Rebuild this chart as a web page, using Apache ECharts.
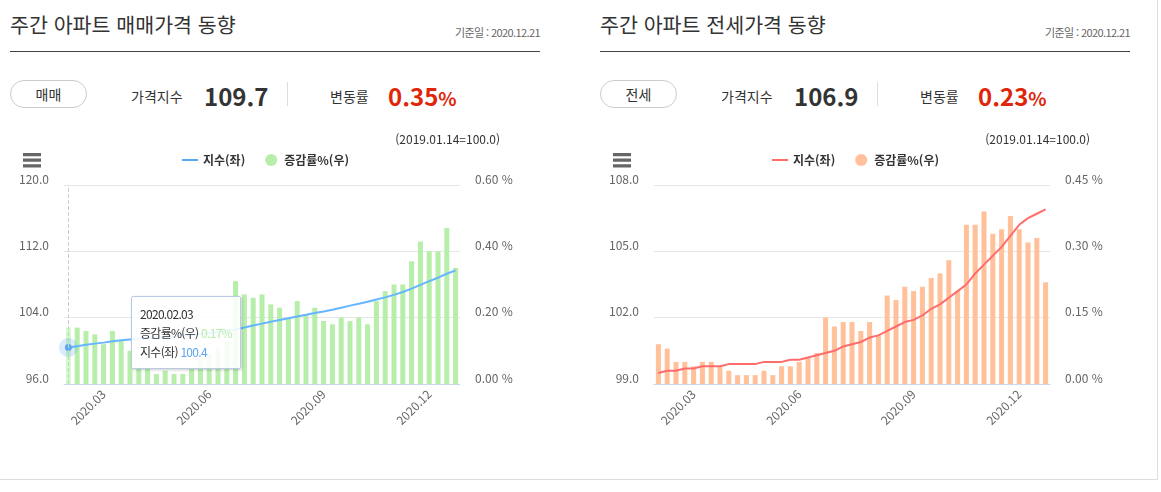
<!DOCTYPE html>
<html lang="ko">
<head>
<meta charset="utf-8">
<title>주간 아파트 가격 동향</title>
<script src="https://cdn.jsdelivr.net/npm/echarts@6/dist/echarts.min.js"></script>
<style>
  body { margin: 0; background: #fff; font-family: 'Noto Sans CJK KR', sans-serif; color: #333; }
  .wrap { position: relative; width: 1157px; height: 479px; border-right: 1px solid #ddd; border-bottom: 1px solid #ddd; }
  .panel { position: absolute; top: 0; width: 580px; height: 479px; }
  .title { position: absolute; left: 10px; top: 10px; font-size: 20.6px; line-height: 28px; }
  .base { position: absolute; right: 40px; top: 24px; font-size: 11px; line-height: 16px; color: #666; letter-spacing: -0.6px; }
  .rule { position: absolute; left: 10px; top: 51px; width: 530px; border-top: 1px solid #444; }
  .btn { position: absolute; left: 10px; top: 80px; width: 75px; height: 26px; border: 1px solid #ccc; border-radius: 14px; text-align: center; font-size: 14px; line-height: 26px; }
  .lbl { position: absolute; top: 86px; font-size: 14px; line-height: 20px; }
  .num { position: absolute; top: 80px; font-size: 24px; line-height: 32px; font-weight: bold; }
  .num small { font-size: 19px; }
  .red { color: #e0260a; }
  .sep { position: absolute; left: 287px; top: 82px; height: 24px; border-left: 1px solid #ddd; }
  .chart { position: absolute; left: 0; top: 120px; width: 560px; height: 340px; }
</style>
</head>
<body>
<div class="wrap">
  <div class="panel" style="left:0">
    <div class="title">주간 아파트 매매가격 동향</div>
    <div class="base">기준일 : 2020.12.21</div>
    <div class="rule"></div>
    <div class="btn">매매</div>
    <div class="lbl" style="left:131px">가격지수</div>
    <div class="num" style="left:204px">109.7</div>
    <div class="sep"></div>
    <div class="lbl" style="left:330px">변동률</div>
    <div class="num red" style="left:388px">0.35<small>%</small></div>
    <div class="chart" id="main"></div>
  </div>
  <div class="panel" style="left:590px">
    <div class="title">주간 아파트 전세가격 동향</div>
    <div class="base">기준일 : 2020.12.21</div>
    <div class="rule"></div>
    <div class="btn">전세</div>
    <div class="lbl" style="left:131px">가격지수</div>
    <div class="num" style="left:204px">106.9</div>
    <div class="sep"></div>
    <div class="lbl" style="left:330px">변동률</div>
    <div class="num red" style="left:388px">0.23<small>%</small></div>
    <div class="chart" id="main2"></div>
  </div>
</div>
<script>
// 주간 날짜 (휴일 주 제외)
var dates = [
    '2020.02.03', '2020.02.10', '2020.02.17', '2020.02.24', '2020.03.02', '2020.03.09', '2020.03.16', '2020.03.23', '2020.03.30', '2020.04.06',
    '2020.04.20', '2020.04.27', '2020.05.04', '2020.05.11', '2020.05.18', '2020.05.25', '2020.06.01', '2020.06.08', '2020.06.15', '2020.06.22',
    '2020.06.29', '2020.07.06', '2020.07.13', '2020.07.20', '2020.07.27', '2020.08.03', '2020.08.10', '2020.08.24', '2020.08.31', '2020.09.07',
    '2020.09.14', '2020.09.21', '2020.09.28', '2020.10.12', '2020.10.19', '2020.10.26', '2020.11.02', '2020.11.09', '2020.11.16', '2020.11.23',
    '2020.11.30', '2020.12.07', '2020.12.14', '2020.12.21', '2020.12.28'
];

// 매매
var saleIndex = [
    100.40, 100.56, 100.72, 100.87, 100.99, 101.15, 101.28, 101.38, 101.46, 101.54,
    101.61, 101.69, 101.76, 101.84, 101.93, 102.03, 102.14, 102.26, 102.39, 102.58,
    102.82, 103.05, 103.28, 103.50, 103.72, 103.92, 104.14, 104.34, 104.56, 104.75,
    104.95, 105.20, 105.45, 105.68, 105.92, 106.18, 106.45, 106.75, 107.10, 107.50,
    107.95, 108.40, 108.82, 109.30, 109.70
];
var saleRate = [
    0.17, 0.17, 0.16, 0.15, 0.12, 0.16, 0.13, 0.10, 0.05, 0.05,
    0.03, 0.04, 0.03, 0.03, 0.05, 0.07, 0.09, 0.11, 0.13, 0.31,
    0.27, 0.26, 0.27, 0.24, 0.23, 0.20, 0.25, 0.21, 0.23, 0.19,
    0.18, 0.20, 0.19, 0.20, 0.18, 0.25, 0.28, 0.30, 0.30, 0.37,
    0.43, 0.40, 0.40, 0.47, 0.35
];

// 전세
var rentIndex = [
    99.5, 99.6, 99.6, 99.7, 99.7, 99.8, 99.8, 99.8, 99.9, 99.9,
    99.9, 99.9, 100.0, 100.0, 100.0, 100.1, 100.1, 100.2, 100.3, 100.4,
    100.5, 100.7, 100.8, 100.9, 101.1, 101.2, 101.4, 101.6, 101.8, 101.9,
    102.1, 102.4, 102.6, 102.9, 103.2, 103.5, 104.0, 104.4, 104.8, 105.2,
    105.7, 106.2, 106.5, 106.7, 106.9
];
var rentRate = [
    0.09, 0.08, 0.05, 0.05, 0.04, 0.05, 0.05, 0.04, 0.03, 0.02,
    0.02, 0.02, 0.03, 0.02, 0.04, 0.04, 0.05, 0.06, 0.07, 0.15,
    0.13, 0.14, 0.14, 0.12, 0.14, 0.11, 0.20, 0.19, 0.22, 0.21,
    0.22, 0.24, 0.25, 0.28, 0.21, 0.36, 0.36, 0.39, 0.34, 0.35,
    0.38, 0.35, 0.32, 0.33, 0.23
];

// 축 눈금
var saleIndexTicks = [96, 104, 112, 120];
var saleRateTicks = [0, 0.2, 0.4, 0.6];
var rentIndexTicks = [99, 102, 105, 108];
var rentRateTicks = [0, 0.15, 0.3, 0.45];
var quarterMonths = ['03', '06', '09', '12'];
var baseNote = '(2019.01.14=100.0)';

function showMonth(idx) {
    if (idx === 0) return false;
    var m = dates[idx].slice(5, 7);
    return m !== dates[idx - 1].slice(5, 7) && quarterMonths.indexOf(m) > -1;
}

function makeOption(indexData, rateData, indexTicks, rateTicks, colors) {
    return {
        animation: false,
        textStyle: { fontFamily: "'Noto Sans CJK KR', sans-serif" },
        toolbox: {
            left: 8,
            top: 18,
            itemSize: 18,
            iconStyle: { color: '#666', borderWidth: 0 },
            feature: {
                myMenu: {
                    show: true,
                    title: '메뉴',
                    icon: 'path://M0,0H17V3H0Z M0,5.3H17V8.3H0Z M0,10.6H17V13.6H0Z',
                    onclick: function() {}
                }
            }
        },
        graphic: [{
            type: 'text',
            right: 60,
            top: 13,
            style: { text: baseNote, fill: '#333', font: "12px 'Noto Sans CJK KR'" }
        }],
        legend: {
            left: 177,
            top: 29,
            itemWidth: 16,
            itemHeight: 12,
            itemGap: 20,
            textStyle: { color: '#333', fontSize: 12, fontWeight: 'bold' },
            data: [
                { name: '지수(좌)', icon: 'path://M0,0H16V2H0Z' },
                { name: '증감률%(우)', icon: 'circle' }
            ]
        },
        tooltip: {
            trigger: 'axis',
            axisPointer: {
                type: 'line',
                lineStyle: { color: '#ccc', type: 'dashed', width: 1 }
            },
            backgroundColor: 'rgba(255, 255, 255, 0.88)',
            borderColor: '#b9cbe4',
            borderWidth: 1,
            padding: [7, 8],
            textStyle: { color: '#333', fontSize: 12, lineHeight: 19 },
            extraCssText: 'box-shadow: 1px 1px 3px rgba(0,0,0,0.2); border-radius: 2px; letter-spacing: -0.7px;',
            position: [131, 176],
            transitionDuration: 0,
            alwaysShowContent: true,
            formatter: function(params) {
                var html = params[0].name;
                params.forEach(function(p) {
                    var v = p.seriesType === 'bar' ? p.value.toFixed(2) + '%' : p.value.toFixed(1);
                    html += '<br/>' + p.seriesName + ' <span style="color:' + p.color + '">' + v + '</span>';
                });
                return html;
            }
        },
        grid: { left: 64, top: 65, width: 396, height: 199 },
        xAxis: {
            type: 'category',
            data: dates,
            boundaryGap: true,
            axisLine: { lineStyle: { color: '#ccd6eb' } },
            axisTick: {
                alignWithLabel: true,
                interval: showMonth,
                length: 8,
                lineStyle: { color: '#ccd6eb' }
            },
            axisLabel: {
                interval: showMonth,
                rotate: 45,
                color: '#666',
                fontSize: 12,
                margin: 8,
                formatter: function(v) { return v.slice(0, 7); }
            }
        },
        yAxis: [{
            type: 'value',
            min: indexTicks[0],
            max: indexTicks[indexTicks.length - 1],
            interval: indexTicks[1] - indexTicks[0],
            axisLine: { show: false },
            axisTick: { show: false },
            splitLine: { lineStyle: { color: '#e6e6e6' } },
            axisLabel: {
                color: '#666',
                fontSize: 12,
                margin: 15,
                verticalAlign: 'bottom',
                formatter: function(v) { return v.toFixed(1); }
            }
        }, {
            type: 'value',
            min: rateTicks[0],
            max: rateTicks[rateTicks.length - 1],
            interval: rateTicks[1] - rateTicks[0],
            axisLine: { show: false },
            axisTick: { show: false },
            splitLine: { show: false },
            axisLabel: {
                color: '#666',
                fontSize: 12,
                margin: 15,
                verticalAlign: 'bottom',
                formatter: function(v) { return v.toFixed(2) + ' %'; }
            }
        }],
        series: [{
            name: '증감률%(우)',
            type: 'bar',
            yAxisIndex: 1,
            barWidth: 5,
            data: rateData,
            itemStyle: { color: colors.bar },
            emphasis: { focus: 'none', itemStyle: { color: colors.barHover } }
        }, {
            name: '지수(좌)',
            type: 'line',
            yAxisIndex: 0,
            data: indexData,
            showSymbol: false,
            symbol: 'circle',
            symbolSize: 7,
            lineStyle: { color: colors.line, width: 2 },
            itemStyle: { color: colors.line },
            emphasis: {
                focus: 'none',
                scale: false,
                lineStyle: { width: 2 },
                itemStyle: { color: colors.line, borderColor: colors.halo, borderWidth: 12 }
            }
        }]
    };
}

var myChart = echarts.init(document.getElementById('main'));
var myChart2 = echarts.init(document.getElementById('main2'));

var option = makeOption(saleIndex, saleRate, saleIndexTicks, saleRateTicks, {
    bar: '#b6eeaa', barHover: '#d3f8cb', line: '#5ca6f2', halo: 'rgba(92, 166, 242, 0.22)'
});
var option2 = makeOption(rentIndex, rentRate, rentIndexTicks, rentRateTicks, {
    bar: '#ffc09a', barHover: '#ffd7be', line: '#ff6c6c', halo: 'rgba(255, 108, 108, 0.22)'
});

myChart.setOption(option);
myChart2.setOption(option2);

// 첫 주에 툴팁 표시
myChart.dispatchAction({ type: 'showTip', seriesIndex: 1, dataIndex: 0 });
</script>
</body>
</html>
